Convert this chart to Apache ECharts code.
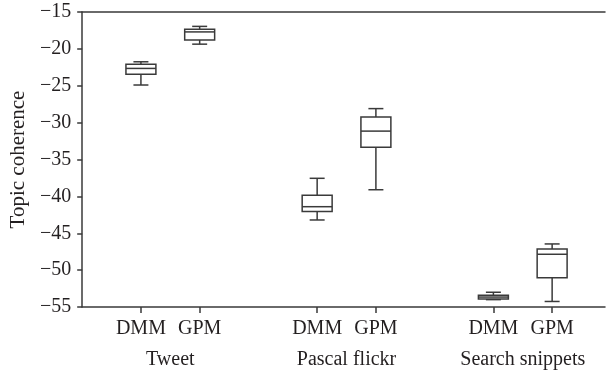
<!DOCTYPE html>
<html>
<head>
<meta charset="utf-8">
<script src="https://cdn.jsdelivr.net/npm/echarts@6/dist/echarts.min.js"></script>
<style>html,body{margin:0;padding:0;background:#fff;}#c{width:607px;height:375px;}</style>
</head>
<body>
<div id="c"></div>
<script>
var groups = ['Tweet', 'Pascal flickr', 'Search snippets'];
var methods = ['DMM', 'GPM'];
var yTicks = [-55, -50, -45, -40, -35, -30, -25, -20, -15];
// order: Tweet DMM, Tweet GPM, Pascal DMM, Pascal GPM, Search DMM, Search GPM
var whiskerLow  = [-24.9, -19.36, -43.2, -39.1, -54.0, -54.25];
var q1Vals      = [-23.45, -18.8, -42.05, -33.35, -53.9, -51.05];
var medianVals  = [-22.65, -17.7, -41.4, -31.15, -53.65, -47.85];
var q3Vals      = [-22.1, -17.35, -39.85, -29.25, -53.4, -47.15];
var whiskerHigh = [-21.75, -16.95, -37.55, -28.1, -53.0, -46.45];

var FONT = 'Liberation Serif';
var LINE = '#3a3a3a';
var TXT = '#231f20';
var data = [];
var tickPos = [];
var groupPos = [];
groups.forEach(function (g, gi) {
  groupPos.push(gi * 3 + 0.5);
  methods.forEach(function (m, mi) {
    var k = gi * 2 + mi;
    var x = gi * 3 + mi;
    tickPos.push(x);
    data.push([x, whiskerLow[k], q1Vals[k], medianVals[k], q3Vals[k], whiskerHigh[k]]);
  });
});
function methodName(v) {
  var r = Math.round(v) % 3;
  return methods[r] || '';
}
function groupName(v) {
  return groups[Math.round((v - 0.5) / 3)] || '';
}
function renderBox(params, api) {
  var x = api.value(0);
  var pLow = api.coord([x, api.value(1)]);
  var pQ1 = api.coord([x, api.value(2)]);
  var pMed = api.coord([x, api.value(3)]);
  var pQ3 = api.coord([x, api.value(4)]);
  var pHigh = api.coord([x, api.value(5)]);
  var w = api.size([0.51, 0])[0];
  var cw = w / 2;
  var cx = pQ1[0];
  var st = { stroke: LINE, lineWidth: 1.5, fill: null };
  return {
    type: 'group',
    children: [
      { type: 'line', shape: { x1: cx, y1: pQ3[1], x2: cx, y2: pHigh[1] }, style: st },
      { type: 'line', shape: { x1: cx, y1: pQ1[1], x2: cx, y2: pLow[1] }, style: st },
      { type: 'line', shape: { x1: cx - cw / 2, y1: pHigh[1], x2: cx + cw / 2, y2: pHigh[1] }, style: st },
      { type: 'line', shape: { x1: cx - cw / 2, y1: pLow[1], x2: cx + cw / 2, y2: pLow[1] }, style: st },
      { type: 'rect', shape: { x: cx - w / 2, y: pQ3[1], width: w, height: pQ1[1] - pQ3[1] }, style: { stroke: LINE, lineWidth: 1.5, fill: '#fff' } },
      { type: 'line', shape: { x1: cx - w / 2, y1: pMed[1], x2: cx + w / 2, y2: pMed[1] }, style: st }
    ]
  };
}
var chart = echarts.init(document.getElementById('c'), null, { renderer: 'canvas' });
chart.setOption({
  animation: false,
  backgroundColor: '#fff',
  grid: { left: 82, right: 2, top: 12, bottom: 68 },
  xAxis: [
    {
      type: 'value', position: 'bottom', min: -1, max: 7.9,
      splitLine: { show: false },
      axisLine: { show: true, onZero: false, lineStyle: { color: LINE, width: 1.5 } },
      axisTick: { show: true, customValues: tickPos, length: 6, lineStyle: { color: LINE, width: 1.5 } },
      axisLabel: { customValues: tickPos, formatter: methodName, margin: 12, fontFamily: FONT, fontSize: 20, color: TXT }
    },
    {
      type: 'value', position: 'bottom', min: -1, max: 7.9,
      splitLine: { show: false },
      axisLine: { show: false, onZero: false },
      axisTick: { show: false },
      axisLabel: { customValues: groupPos, formatter: groupName, margin: 43, fontFamily: FONT, fontSize: 20, color: TXT }
    },
    {
      type: 'value', position: 'top', min: -1, max: 7.9,
      splitLine: { show: false },
      axisLine: { show: true, onZero: false, lineStyle: { color: LINE, width: 1.5 } },
      axisTick: { show: false },
      axisLabel: { show: false }
    }
  ],
  yAxis: {
    type: 'value', min: -55, max: -15, interval: 5,
    name: 'Topic coherence', nameLocation: 'middle', nameGap: 51,
    nameTextStyle: { fontFamily: FONT, fontSize: 21, color: TXT },
    splitLine: { show: false },
    axisLine: { show: true, onZero: false, lineStyle: { color: LINE, width: 1.5 } },
    axisTick: { show: true, length: 5, lineStyle: { color: LINE, width: 1.5 } },
    axisLabel: {
      margin: 11, fontFamily: FONT, fontSize: 20, color: TXT,
      formatter: function (v) { return String(v).replace('-', '\u2212'); }
    }
  },
  series: [{
    type: 'custom',
    xAxisIndex: 0,
    renderItem: renderBox,
    encode: { x: 0, y: [1, 2, 3, 4, 5] },
    data: data
  }]
});
</script>
</body>
</html>
